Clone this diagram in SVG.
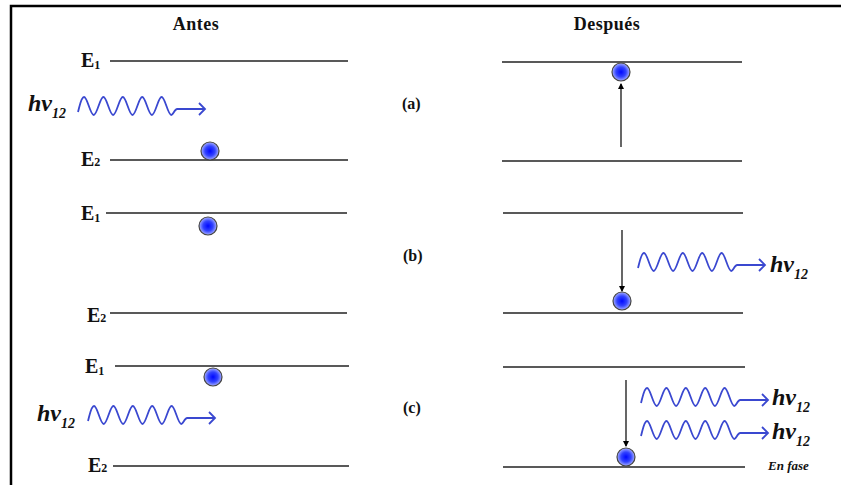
<svg xmlns="http://www.w3.org/2000/svg" width="841" height="485" viewBox="0 0 841 485">
  <style>
    .lvl { stroke: #222; stroke-width: 1.4; fill: none; }
    .title { font-family: "Liberation Serif", serif; font-weight: bold; font-size: 18px; fill: #111; }
    .elab { font-family: "Liberation Serif", serif; font-weight: bold; font-size: 20px; fill: #111; }
    .esub { font-size: 12px; }
    .case { font-family: "Liberation Serif", serif; font-weight: bold; font-size: 16px; fill: #111; }
    .hv { font-family: "Liberation Serif", serif; font-weight: bold; font-style: italic; font-size: 24px; fill: #111; }
    .hvsub { font-size: 14px; }
    .wave { stroke: #3a48d0; stroke-width: 1.8; fill: none; }
    .el { fill: url(#eg); stroke: #444; stroke-width: 1.2; }
    .trans { stroke: #000; stroke-width: 1.2; fill: none; marker-end: url(#ah); }
    .fase { font-family: "Liberation Serif", serif; font-weight: bold; font-style: italic; font-size: 13px; fill: #111; }
  </style>
  <defs>
    <radialGradient id="eg" cx="0.5" cy="0.5" r="0.5">
      <stop offset="0" stop-color="#0008ff"/>
      <stop offset="0.55" stop-color="#3344ff"/>
      <stop offset="1" stop-color="#a8b0ff"/>
    </radialGradient>
    <marker id="ah" markerWidth="6" markerHeight="10" refX="5" refY="3" orient="auto" markerUnits="userSpaceOnUse">
      <path d="M0,0 L6,3 L0,6 Z" fill="#000"/>
    </marker>
    <path id="wave" d="M0,6 c1.5,-5 3,-15 6,-15 c3.5,0 6.2,18 9.7,18 c3.5,0 6.2,-18 9.7,-18 c3.5,0 6.2,18 9.7,18 c3.5,0 6.2,-18 9.7,-18 c3.5,0 6.2,18 9.7,18 c3.5,0 6.2,-18 9.7,-18 c3.5,0 6.2,18 9.7,18 c3.5,0 6.2,-18 9.7,-18 c3.5,0 6.2,18 9.7,18 c2,0 3,-6 6,-6 l26,0 M121,-3 l6,6 l-6,6"/>
  </defs>

  <rect x="11" y="6" width="900" height="600" fill="#fff" stroke="#000" stroke-width="2.5"/>

  <g id="headers">
    <text class="title" x="196" y="30" text-anchor="middle" letter-spacing="0.5">Antes</text>
    <text class="title" x="607" y="30" text-anchor="middle" letter-spacing="0.5">Después</text>
  </g>

  <g id="case-a">
    <text class="case" x="402" y="109">(a)</text>
    <line class="lvl" x1="110" y1="61" x2="348" y2="61"/>
    <line class="lvl" x1="110" y1="160" x2="348" y2="160"/>
    <text class="elab" x="81" y="67">E<tspan class="esub" dy="2">1</tspan></text>
    <text class="elab" x="81" y="166">E<tspan class="esub" dy="0">2</tspan></text>
    <text class="hv" x="28" y="111">hv<tspan class="hvsub" dy="7">12</tspan></text>
    <use href="#wave" class="wave" x="78" y="106"/>
    <circle class="el" cx="210" cy="151" r="9"/>
    <line class="lvl" x1="502" y1="62" x2="742" y2="62"/>
    <line class="lvl" x1="502" y1="161" x2="742" y2="161"/>
    <circle class="el" cx="621" cy="72" r="9"/>
  </g>

  <g id="case-b">
    <text class="case" x="403" y="261">(b)</text>
    <line class="lvl" x1="106" y1="213" x2="347" y2="213"/>
    <line class="lvl" x1="110" y1="313" x2="347" y2="313"/>
    <text class="elab" x="81" y="220">E<tspan class="esub" dy="2">1</tspan></text>
    <text class="elab" x="87" y="322">E<tspan class="esub" dy="0">2</tspan></text>
    <circle class="el" cx="208" cy="226" r="9"/>
    <line class="lvl" x1="503" y1="213" x2="743" y2="213"/>
    <line class="lvl" x1="503" y1="313" x2="743" y2="313"/>
    <circle class="el" cx="622" cy="301" r="9"/>
    <use href="#wave" class="wave" x="638" y="262"/>
    <text class="hv" x="770" y="272">hv<tspan class="hvsub" dy="7">12</tspan></text>
  </g>

  <g id="case-c">
    <text class="case" x="403" y="413">(c)</text>
    <line class="lvl" x1="115" y1="366" x2="349" y2="366"/>
    <line class="lvl" x1="113" y1="466" x2="349" y2="466"/>
    <text class="elab" x="85" y="373">E<tspan class="esub" dy="2">1</tspan></text>
    <text class="elab" x="88" y="472">E<tspan class="esub" dy="0">2</tspan></text>
    <circle class="el" cx="213" cy="377" r="9"/>
    <text class="hv" x="37" y="421">hv<tspan class="hvsub" dy="7">12</tspan></text>
    <use href="#wave" class="wave" x="88" y="415"/>
    <line class="lvl" x1="503" y1="367" x2="745" y2="367"/>
    <line class="lvl" x1="503" y1="467" x2="745" y2="467"/>
    <circle class="el" cx="626" cy="457" r="9"/>
    <use href="#wave" class="wave" x="641" y="397"/>
    <use href="#wave" class="wave" x="641" y="430"/>
    <text class="hv" x="772" y="405">hv<tspan class="hvsub" dy="7">12</tspan></text>
    <text class="hv" x="772" y="439">hv<tspan class="hvsub" dy="7">12</tspan></text>
    <text class="fase" x="768" y="470">En fase</text>
  </g>

  <g id="connectors">
    <line class="trans" x1="621" y1="147" x2="621" y2="84"/>
    <line class="trans" x1="622" y1="230" x2="622" y2="291"/>
    <line class="trans" x1="626" y1="380" x2="626" y2="446"/>
  </g>
</svg>
